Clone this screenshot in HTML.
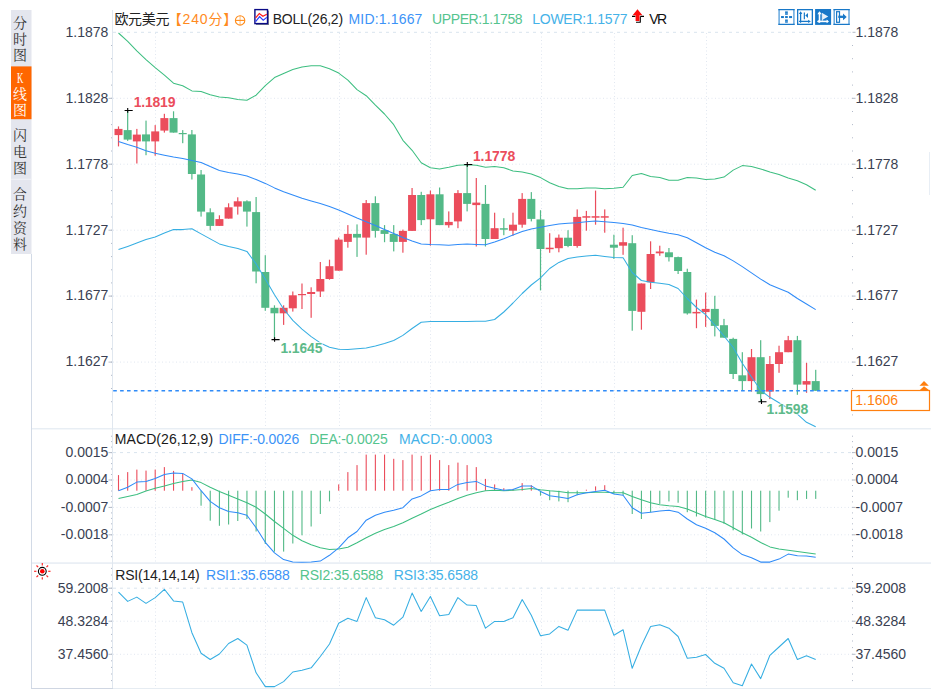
<!DOCTYPE html><html><head><meta charset="utf-8"><title>欧元美元 K线图</title><style>
html,body{margin:0;padding:0;background:#fff;}body{width:934px;height:689px;overflow:hidden;}
svg{display:block;}
text{font-family:"Liberation Sans","Noto Sans CJK SC",sans-serif;}
.ax{font-size:14px;fill:#3a3f52;}
.hd{font-size:14px;}
.cn{font-family:"Liberation Serif","Noto Serif CJK SC",serif;font-size:14px;}
.pk{font-size:14px;font-weight:bold;stroke:#fff;stroke-width:2px;paint-order:stroke;stroke-opacity:.7}
</style></head><body>
<svg width="934" height="689" viewBox="0 0 934 689">
<rect width="934" height="689" fill="#fff"/>
<g>
<rect x="11" y="10" width="20.5" height="244" fill="#E4E6EE"/>
<rect x="11" y="66.4" width="20.5" height="52.8" fill="#FF6600"/>
<rect x="11" y="178.8" width="20.5" height="1" fill="#f2f3f8"/>
<text class="cn" x="20.1" y="27.6" text-anchor="middle" fill="#333">分</text>
<text class="cn" x="20.1" y="44.0" text-anchor="middle" fill="#333">时</text>
<text class="cn" x="20.1" y="60.0" text-anchor="middle" fill="#333">图</text>
<text class="cn" x="20.1" y="83.2" text-anchor="middle" fill="#fff" font-size="12.5" textLength="6.4" lengthAdjust="spacingAndGlyphs">K</text>
<text class="cn" x="20.1" y="99.0" text-anchor="middle" fill="#fff">线</text>
<text class="cn" x="20.1" y="115.2" text-anchor="middle" fill="#fff">图</text>
<text class="cn" x="20.1" y="140.0" text-anchor="middle" fill="#333">闪</text>
<text class="cn" x="20.1" y="157.0" text-anchor="middle" fill="#333">电</text>
<text class="cn" x="20.1" y="173.0" text-anchor="middle" fill="#333">图</text>
<text class="cn" x="20.1" y="199.0" text-anchor="middle" fill="#333">合</text>
<text class="cn" x="20.1" y="216.0" text-anchor="middle" fill="#333">约</text>
<text class="cn" x="20.1" y="232.5" text-anchor="middle" fill="#333">资</text>
<text class="cn" x="20.1" y="249.0" text-anchor="middle" fill="#333">料</text>
</g>
<g fill="none" shape-rendering="crispEdges">
<line x1="31.5" y1="254" x2="31.5" y2="688.5" stroke="#d2dae6"/>
<line x1="31" y1="688.5" x2="113" y2="688.5" stroke="#cfd6e2"/><line x1="113" y1="688.5" x2="931" y2="688.5" stroke="#e6ecf2"/>
<line x1="32" y1="428.5" x2="931" y2="428.5" stroke="#e8eef4"/><line x1="32" y1="429.5" x2="931" y2="429.5" stroke="#f4f7fa"/>
<line x1="32" y1="563.5" x2="931" y2="563.5" stroke="#eaeff5"/><line x1="32" y1="562.5" x2="931" y2="562.5" stroke="#eef2f7"/>
<line x1="112.5" y1="10" x2="112.5" y2="688" stroke="#e0e7ef"/>
<line x1="929.5" y1="152" x2="929.5" y2="195" stroke="#e8eef5"/>
</g>
<g stroke="#e1e7f0" stroke-width="1" fill="none">
<line x1="113" y1="32.3" x2="852" y2="32.3" stroke="#d9e4ee" stroke-dasharray="3 4"/>
<line x1="113" y1="452.6" x2="852" y2="452.6" stroke="#d9e4ee" stroke-dasharray="3 4"/>
<line x1="113" y1="588.2" x2="852" y2="588.2" stroke="#d9e4ee" stroke-dasharray="3 4"/>
<line x1="113" y1="98.3" x2="852" y2="98.3" stroke-dasharray="1 2.5"/>
<line x1="113" y1="164.2" x2="852" y2="164.2" stroke-dasharray="1 2.5"/>
<line x1="113" y1="230.2" x2="852" y2="230.2" stroke-dasharray="1 2.5"/>
<line x1="113" y1="296.1" x2="852" y2="296.1" stroke-dasharray="1 2.5"/>
<line x1="113" y1="362.1" x2="852" y2="362.1" stroke-dasharray="1 2.5"/>
<line x1="113" y1="480.0" x2="852" y2="480.0" stroke-dasharray="1 2.5"/>
<line x1="113" y1="507.4" x2="852" y2="507.4" stroke-dasharray="1 2.5"/>
<line x1="113" y1="534.8" x2="852" y2="534.8" stroke-dasharray="1 2.5"/>
<line x1="113" y1="621.2" x2="852" y2="621.2" stroke-dasharray="1 2.5"/>
<line x1="113" y1="654.3" x2="852" y2="654.3" stroke-dasharray="1 2.5"/>
<line x1="155.5" y1="33" x2="155.5" y2="428" stroke-dasharray="1 2.5"/>
<line x1="155.5" y1="452" x2="155.5" y2="562" stroke-dasharray="1 2.5"/>
<line x1="155.5" y1="587" x2="155.5" y2="688" stroke-dasharray="1 2.5"/>
<line x1="265.5" y1="33" x2="265.5" y2="428" stroke-dasharray="1 2.5"/>
<line x1="265.5" y1="452" x2="265.5" y2="562" stroke-dasharray="1 2.5"/>
<line x1="265.5" y1="587" x2="265.5" y2="688" stroke-dasharray="1 2.5"/>
<line x1="339.5" y1="33" x2="339.5" y2="428" stroke-dasharray="1 2.5"/>
<line x1="339.5" y1="452" x2="339.5" y2="562" stroke-dasharray="1 2.5"/>
<line x1="339.5" y1="587" x2="339.5" y2="688" stroke-dasharray="1 2.5"/>
<line x1="430.5" y1="33" x2="430.5" y2="428" stroke-dasharray="1 2.5"/>
<line x1="430.5" y1="452" x2="430.5" y2="562" stroke-dasharray="1 2.5"/>
<line x1="430.5" y1="587" x2="430.5" y2="688" stroke-dasharray="1 2.5"/>
<line x1="541.5" y1="33" x2="541.5" y2="428" stroke-dasharray="1 2.5"/>
<line x1="541.5" y1="452" x2="541.5" y2="562" stroke-dasharray="1 2.5"/>
<line x1="541.5" y1="587" x2="541.5" y2="688" stroke-dasharray="1 2.5"/>
<line x1="614.5" y1="33" x2="614.5" y2="428" stroke-dasharray="1 2.5"/>
<line x1="614.5" y1="452" x2="614.5" y2="562" stroke-dasharray="1 2.5"/>
<line x1="614.5" y1="587" x2="614.5" y2="688" stroke-dasharray="1 2.5"/>
<line x1="706.5" y1="33" x2="706.5" y2="428" stroke-dasharray="1 2.5"/>
<line x1="706.5" y1="452" x2="706.5" y2="562" stroke-dasharray="1 2.5"/>
<line x1="706.5" y1="587" x2="706.5" y2="688" stroke-dasharray="1 2.5"/>
</g>
<rect x="852.0" y="45.0" width="1" height="1" fill="#b2bac9"/>
<rect x="111.0" y="45.0" width="1" height="1" fill="#b2bac9"/>
<rect x="852.0" y="58.2" width="1" height="1" fill="#b2bac9"/>
<rect x="111.0" y="58.2" width="1" height="1" fill="#b2bac9"/>
<rect x="852.0" y="71.4" width="1" height="1" fill="#b2bac9"/>
<rect x="111.0" y="71.4" width="1" height="1" fill="#b2bac9"/>
<rect x="852.0" y="84.6" width="1" height="1" fill="#b2bac9"/>
<rect x="111.0" y="84.6" width="1" height="1" fill="#b2bac9"/>
<rect x="852.0" y="97.8" width="1" height="1" fill="#b2bac9"/>
<rect x="111.0" y="97.8" width="1" height="1" fill="#b2bac9"/>
<rect x="852.0" y="111.0" width="1" height="1" fill="#b2bac9"/>
<rect x="111.0" y="111.0" width="1" height="1" fill="#b2bac9"/>
<rect x="852.0" y="124.1" width="1" height="1" fill="#b2bac9"/>
<rect x="111.0" y="124.1" width="1" height="1" fill="#b2bac9"/>
<rect x="852.0" y="137.3" width="1" height="1" fill="#b2bac9"/>
<rect x="111.0" y="137.3" width="1" height="1" fill="#b2bac9"/>
<rect x="852.0" y="150.5" width="1" height="1" fill="#b2bac9"/>
<rect x="111.0" y="150.5" width="1" height="1" fill="#b2bac9"/>
<rect x="852.0" y="163.7" width="1" height="1" fill="#b2bac9"/>
<rect x="111.0" y="163.7" width="1" height="1" fill="#b2bac9"/>
<rect x="852.0" y="176.9" width="1" height="1" fill="#b2bac9"/>
<rect x="111.0" y="176.9" width="1" height="1" fill="#b2bac9"/>
<rect x="852.0" y="190.1" width="1" height="1" fill="#b2bac9"/>
<rect x="111.0" y="190.1" width="1" height="1" fill="#b2bac9"/>
<rect x="852.0" y="203.3" width="1" height="1" fill="#b2bac9"/>
<rect x="111.0" y="203.3" width="1" height="1" fill="#b2bac9"/>
<rect x="852.0" y="216.5" width="1" height="1" fill="#b2bac9"/>
<rect x="111.0" y="216.5" width="1" height="1" fill="#b2bac9"/>
<rect x="852.0" y="229.7" width="1" height="1" fill="#b2bac9"/>
<rect x="111.0" y="229.7" width="1" height="1" fill="#b2bac9"/>
<rect x="852.0" y="242.9" width="1" height="1" fill="#b2bac9"/>
<rect x="111.0" y="242.9" width="1" height="1" fill="#b2bac9"/>
<rect x="852.0" y="256.1" width="1" height="1" fill="#b2bac9"/>
<rect x="111.0" y="256.1" width="1" height="1" fill="#b2bac9"/>
<rect x="852.0" y="269.3" width="1" height="1" fill="#b2bac9"/>
<rect x="111.0" y="269.3" width="1" height="1" fill="#b2bac9"/>
<rect x="852.0" y="282.4" width="1" height="1" fill="#b2bac9"/>
<rect x="111.0" y="282.4" width="1" height="1" fill="#b2bac9"/>
<rect x="852.0" y="295.6" width="1" height="1" fill="#b2bac9"/>
<rect x="111.0" y="295.6" width="1" height="1" fill="#b2bac9"/>
<rect x="852.0" y="308.8" width="1" height="1" fill="#b2bac9"/>
<rect x="111.0" y="308.8" width="1" height="1" fill="#b2bac9"/>
<rect x="852.0" y="322.0" width="1" height="1" fill="#b2bac9"/>
<rect x="111.0" y="322.0" width="1" height="1" fill="#b2bac9"/>
<rect x="852.0" y="335.2" width="1" height="1" fill="#b2bac9"/>
<rect x="111.0" y="335.2" width="1" height="1" fill="#b2bac9"/>
<rect x="852.0" y="348.4" width="1" height="1" fill="#b2bac9"/>
<rect x="111.0" y="348.4" width="1" height="1" fill="#b2bac9"/>
<rect x="852.0" y="361.6" width="1" height="1" fill="#b2bac9"/>
<rect x="111.0" y="361.6" width="1" height="1" fill="#b2bac9"/>
<rect x="852.0" y="374.8" width="1" height="1" fill="#b2bac9"/>
<rect x="111.0" y="374.8" width="1" height="1" fill="#b2bac9"/>
<rect x="852.0" y="388.0" width="1" height="1" fill="#b2bac9"/>
<rect x="111.0" y="388.0" width="1" height="1" fill="#b2bac9"/>
<rect x="852.0" y="401.2" width="1" height="1" fill="#b2bac9"/>
<rect x="111.0" y="401.2" width="1" height="1" fill="#b2bac9"/>
<rect x="852.0" y="414.4" width="1" height="1" fill="#b2bac9"/>
<rect x="111.0" y="414.4" width="1" height="1" fill="#b2bac9"/>
<rect x="852.5" y="31.8" width="3" height="1" fill="#b5bcc8"/>
<text class="ax" x="108.3" y="36.6" text-anchor="end">1.1878</text>
<text class="ax" x="855.5" y="36.6">1.1878</text>
<rect x="852.5" y="97.8" width="3" height="1" fill="#b5bcc8"/>
<rect x="108.5" y="97.8" width="3.5" height="1" fill="#b5bcc8"/>
<text class="ax" x="108.3" y="102.6" text-anchor="end">1.1828</text>
<text class="ax" x="855.5" y="102.6">1.1828</text>
<rect x="852.5" y="163.7" width="3" height="1" fill="#b5bcc8"/>
<rect x="108.5" y="163.7" width="3.5" height="1" fill="#b5bcc8"/>
<text class="ax" x="108.3" y="168.5" text-anchor="end">1.1778</text>
<text class="ax" x="855.5" y="168.5">1.1778</text>
<rect x="852.5" y="229.7" width="3" height="1" fill="#b5bcc8"/>
<rect x="108.5" y="229.7" width="3.5" height="1" fill="#b5bcc8"/>
<text class="ax" x="108.3" y="234.5" text-anchor="end">1.1727</text>
<text class="ax" x="855.5" y="234.5">1.1727</text>
<rect x="852.5" y="295.6" width="3" height="1" fill="#b5bcc8"/>
<rect x="108.5" y="295.6" width="3.5" height="1" fill="#b5bcc8"/>
<text class="ax" x="108.3" y="300.4" text-anchor="end">1.1677</text>
<text class="ax" x="855.5" y="300.4">1.1677</text>
<rect x="852.5" y="361.6" width="3" height="1" fill="#b5bcc8"/>
<rect x="108.5" y="361.6" width="3.5" height="1" fill="#b5bcc8"/>
<text class="ax" x="108.3" y="366.4" text-anchor="end">1.1627</text>
<text class="ax" x="855.5" y="366.4">1.1627</text>
<rect x="852.0" y="452.1" width="1" height="1" fill="#b2bac9"/>
<rect x="111.0" y="452.1" width="1" height="1" fill="#b2bac9"/>
<rect x="852.0" y="446.6" width="1" height="1" fill="#b2bac9"/>
<rect x="111.0" y="446.6" width="1" height="1" fill="#b2bac9"/>
<rect x="852.0" y="441.1" width="1" height="1" fill="#b2bac9"/>
<rect x="111.0" y="441.1" width="1" height="1" fill="#b2bac9"/>
<rect x="852.0" y="435.7" width="1" height="1" fill="#b2bac9"/>
<rect x="111.0" y="435.7" width="1" height="1" fill="#b2bac9"/>
<rect x="852.0" y="457.6" width="1" height="1" fill="#b2bac9"/>
<rect x="111.0" y="457.6" width="1" height="1" fill="#b2bac9"/>
<rect x="852.0" y="463.1" width="1" height="1" fill="#b2bac9"/>
<rect x="111.0" y="463.1" width="1" height="1" fill="#b2bac9"/>
<rect x="852.0" y="468.5" width="1" height="1" fill="#b2bac9"/>
<rect x="111.0" y="468.5" width="1" height="1" fill="#b2bac9"/>
<rect x="852.0" y="474.0" width="1" height="1" fill="#b2bac9"/>
<rect x="111.0" y="474.0" width="1" height="1" fill="#b2bac9"/>
<rect x="852.0" y="479.5" width="1" height="1" fill="#b2bac9"/>
<rect x="111.0" y="479.5" width="1" height="1" fill="#b2bac9"/>
<rect x="852.0" y="485.0" width="1" height="1" fill="#b2bac9"/>
<rect x="111.0" y="485.0" width="1" height="1" fill="#b2bac9"/>
<rect x="852.0" y="490.5" width="1" height="1" fill="#b2bac9"/>
<rect x="111.0" y="490.5" width="1" height="1" fill="#b2bac9"/>
<rect x="852.0" y="495.9" width="1" height="1" fill="#b2bac9"/>
<rect x="111.0" y="495.9" width="1" height="1" fill="#b2bac9"/>
<rect x="852.0" y="501.4" width="1" height="1" fill="#b2bac9"/>
<rect x="111.0" y="501.4" width="1" height="1" fill="#b2bac9"/>
<rect x="852.0" y="506.9" width="1" height="1" fill="#b2bac9"/>
<rect x="111.0" y="506.9" width="1" height="1" fill="#b2bac9"/>
<rect x="852.0" y="512.4" width="1" height="1" fill="#b2bac9"/>
<rect x="111.0" y="512.4" width="1" height="1" fill="#b2bac9"/>
<rect x="852.0" y="517.9" width="1" height="1" fill="#b2bac9"/>
<rect x="111.0" y="517.9" width="1" height="1" fill="#b2bac9"/>
<rect x="852.0" y="523.3" width="1" height="1" fill="#b2bac9"/>
<rect x="111.0" y="523.3" width="1" height="1" fill="#b2bac9"/>
<rect x="852.0" y="528.8" width="1" height="1" fill="#b2bac9"/>
<rect x="111.0" y="528.8" width="1" height="1" fill="#b2bac9"/>
<rect x="852.0" y="534.3" width="1" height="1" fill="#b2bac9"/>
<rect x="111.0" y="534.3" width="1" height="1" fill="#b2bac9"/>
<rect x="852.0" y="539.8" width="1" height="1" fill="#b2bac9"/>
<rect x="111.0" y="539.8" width="1" height="1" fill="#b2bac9"/>
<rect x="852.0" y="545.3" width="1" height="1" fill="#b2bac9"/>
<rect x="111.0" y="545.3" width="1" height="1" fill="#b2bac9"/>
<rect x="852.0" y="550.7" width="1" height="1" fill="#b2bac9"/>
<rect x="111.0" y="550.7" width="1" height="1" fill="#b2bac9"/>
<rect x="852.0" y="556.2" width="1" height="1" fill="#b2bac9"/>
<rect x="111.0" y="556.2" width="1" height="1" fill="#b2bac9"/>
<rect x="852.5" y="452.1" width="3" height="1" fill="#b5bcc8"/>
<rect x="108.5" y="452.1" width="3.5" height="1" fill="#b5bcc8"/>
<text class="ax" x="108.3" y="456.9" text-anchor="end">0.0015</text>
<text class="ax" x="855.5" y="456.9">0.0015</text>
<rect x="852.5" y="479.5" width="3" height="1" fill="#b5bcc8"/>
<rect x="108.5" y="479.5" width="3.5" height="1" fill="#b5bcc8"/>
<text class="ax" x="108.3" y="484.3" text-anchor="end">0.0004</text>
<text class="ax" x="855.5" y="484.3">0.0004</text>
<rect x="852.5" y="506.9" width="3" height="1" fill="#b5bcc8"/>
<rect x="108.5" y="506.9" width="3.5" height="1" fill="#b5bcc8"/>
<text class="ax" x="108.3" y="511.7" text-anchor="end">-0.0007</text>
<text class="ax" x="855.5" y="511.7">-0.0007</text>
<rect x="852.5" y="534.3" width="3" height="1" fill="#b5bcc8"/>
<rect x="108.5" y="534.3" width="3.5" height="1" fill="#b5bcc8"/>
<text class="ax" x="108.3" y="539.1" text-anchor="end">-0.0018</text>
<text class="ax" x="855.5" y="539.1">-0.0018</text>
<rect x="852.0" y="587.7" width="1" height="1" fill="#b2bac9"/>
<rect x="111.0" y="587.7" width="1" height="1" fill="#b2bac9"/>
<rect x="852.0" y="581.1" width="1" height="1" fill="#b2bac9"/>
<rect x="111.0" y="581.1" width="1" height="1" fill="#b2bac9"/>
<rect x="852.0" y="574.5" width="1" height="1" fill="#b2bac9"/>
<rect x="111.0" y="574.5" width="1" height="1" fill="#b2bac9"/>
<rect x="852.0" y="567.9" width="1" height="1" fill="#b2bac9"/>
<rect x="111.0" y="567.9" width="1" height="1" fill="#b2bac9"/>
<rect x="852.0" y="594.3" width="1" height="1" fill="#b2bac9"/>
<rect x="111.0" y="594.3" width="1" height="1" fill="#b2bac9"/>
<rect x="852.0" y="600.9" width="1" height="1" fill="#b2bac9"/>
<rect x="111.0" y="600.9" width="1" height="1" fill="#b2bac9"/>
<rect x="852.0" y="607.5" width="1" height="1" fill="#b2bac9"/>
<rect x="111.0" y="607.5" width="1" height="1" fill="#b2bac9"/>
<rect x="852.0" y="614.1" width="1" height="1" fill="#b2bac9"/>
<rect x="111.0" y="614.1" width="1" height="1" fill="#b2bac9"/>
<rect x="852.0" y="620.7" width="1" height="1" fill="#b2bac9"/>
<rect x="111.0" y="620.7" width="1" height="1" fill="#b2bac9"/>
<rect x="852.0" y="627.3" width="1" height="1" fill="#b2bac9"/>
<rect x="111.0" y="627.3" width="1" height="1" fill="#b2bac9"/>
<rect x="852.0" y="633.9" width="1" height="1" fill="#b2bac9"/>
<rect x="111.0" y="633.9" width="1" height="1" fill="#b2bac9"/>
<rect x="852.0" y="640.5" width="1" height="1" fill="#b2bac9"/>
<rect x="111.0" y="640.5" width="1" height="1" fill="#b2bac9"/>
<rect x="852.0" y="647.1" width="1" height="1" fill="#b2bac9"/>
<rect x="111.0" y="647.1" width="1" height="1" fill="#b2bac9"/>
<rect x="852.0" y="653.7" width="1" height="1" fill="#b2bac9"/>
<rect x="111.0" y="653.7" width="1" height="1" fill="#b2bac9"/>
<rect x="852.0" y="660.3" width="1" height="1" fill="#b2bac9"/>
<rect x="111.0" y="660.3" width="1" height="1" fill="#b2bac9"/>
<rect x="852.0" y="666.9" width="1" height="1" fill="#b2bac9"/>
<rect x="111.0" y="666.9" width="1" height="1" fill="#b2bac9"/>
<rect x="852.0" y="673.5" width="1" height="1" fill="#b2bac9"/>
<rect x="111.0" y="673.5" width="1" height="1" fill="#b2bac9"/>
<rect x="852.0" y="680.1" width="1" height="1" fill="#b2bac9"/>
<rect x="111.0" y="680.1" width="1" height="1" fill="#b2bac9"/>
<rect x="852.5" y="587.7" width="3" height="1" fill="#b5bcc8"/>
<rect x="108.5" y="587.7" width="3.5" height="1" fill="#b5bcc8"/>
<text class="ax" x="108.3" y="592.5" text-anchor="end">59.2008</text>
<text class="ax" x="855.5" y="592.5">59.2008</text>
<rect x="852.5" y="620.7" width="3" height="1" fill="#b5bcc8"/>
<rect x="108.5" y="620.7" width="3.5" height="1" fill="#b5bcc8"/>
<text class="ax" x="108.3" y="625.5" text-anchor="end">48.3284</text>
<text class="ax" x="855.5" y="625.5">48.3284</text>
<rect x="852.5" y="653.8" width="3" height="1" fill="#b5bcc8"/>
<rect x="108.5" y="653.8" width="3.5" height="1" fill="#b5bcc8"/>
<text class="ax" x="108.3" y="658.6" text-anchor="end">37.4560</text>
<text class="ax" x="855.5" y="658.6">37.4560</text>
<g>
<rect x="117.90" y="126.4" width="1.2" height="20.0" fill="#EB4D5C"/>
<rect x="114.50" y="128.9" width="8" height="6.2" fill="#EB4D5C"/>
<rect x="127.07" y="110.5" width="1.2" height="30.4" fill="#53B987"/>
<rect x="123.67" y="130.1" width="8" height="9.5" fill="#53B987"/>
<rect x="136.25" y="128.9" width="1.2" height="34.6" fill="#EB4D5C"/>
<rect x="132.85" y="134.6" width="8" height="6.8" fill="#EB4D5C"/>
<rect x="145.42" y="120.6" width="1.2" height="34.6" fill="#53B987"/>
<rect x="142.02" y="134.4" width="8" height="7.0" fill="#53B987"/>
<rect x="154.60" y="125.1" width="1.2" height="30.6" fill="#EB4D5C"/>
<rect x="151.20" y="131.4" width="8" height="10.0" fill="#EB4D5C"/>
<rect x="163.77" y="113.8" width="1.2" height="18.8" fill="#EB4D5C"/>
<rect x="160.37" y="118.1" width="8" height="12.5" fill="#EB4D5C"/>
<rect x="172.94" y="111.3" width="1.2" height="21.3" fill="#53B987"/>
<rect x="169.54" y="118.1" width="8" height="14.5" fill="#53B987"/>
<rect x="182.12" y="130.1" width="1.2" height="13.1" fill="#53B987"/>
<rect x="178.72" y="133.0" width="8" height="1.2" fill="#53B987"/>
<rect x="191.29" y="130.0" width="1.2" height="49.5" fill="#53B987"/>
<rect x="187.89" y="134.4" width="8" height="39.6" fill="#53B987"/>
<rect x="200.47" y="170.0" width="1.2" height="46.6" fill="#53B987"/>
<rect x="197.07" y="174.5" width="8" height="37.1" fill="#53B987"/>
<rect x="209.64" y="208.3" width="1.2" height="22.1" fill="#53B987"/>
<rect x="206.24" y="212.3" width="8" height="13.6" fill="#53B987"/>
<rect x="218.81" y="215.3" width="1.2" height="10.6" fill="#EB4D5C"/>
<rect x="215.41" y="219.1" width="8" height="6.8" fill="#EB4D5C"/>
<rect x="227.99" y="203.3" width="1.2" height="15.3" fill="#EB4D5C"/>
<rect x="224.59" y="207.3" width="8" height="11.3" fill="#EB4D5C"/>
<rect x="237.16" y="197.3" width="1.2" height="17.3" fill="#EB4D5C"/>
<rect x="233.76" y="201.3" width="8" height="5.3" fill="#EB4D5C"/>
<rect x="246.34" y="200.3" width="1.2" height="26.3" fill="#53B987"/>
<rect x="242.94" y="201.3" width="8" height="10.3" fill="#53B987"/>
<rect x="255.51" y="197.0" width="1.2" height="86.3" fill="#53B987"/>
<rect x="252.11" y="212.1" width="8" height="59.4" fill="#53B987"/>
<rect x="264.68" y="255.2" width="1.2" height="55.6" fill="#53B987"/>
<rect x="261.28" y="272.0" width="8" height="35.8" fill="#53B987"/>
<rect x="273.86" y="305.3" width="1.2" height="34.3" fill="#53B987"/>
<rect x="270.46" y="307.8" width="8" height="5.5" fill="#53B987"/>
<rect x="283.03" y="305.3" width="1.2" height="19.6" fill="#EB4D5C"/>
<rect x="279.63" y="307.8" width="8" height="5.5" fill="#EB4D5C"/>
<rect x="292.21" y="291.5" width="1.2" height="20.1" fill="#EB4D5C"/>
<rect x="288.81" y="295.3" width="8" height="13.0" fill="#EB4D5C"/>
<rect x="301.38" y="283.5" width="1.2" height="25.5" fill="#EB4D5C"/>
<rect x="297.98" y="294.0" width="8" height="1.2" fill="#EB4D5C"/>
<rect x="310.55" y="287.3" width="1.2" height="30.5" fill="#EB4D5C"/>
<rect x="307.15" y="292.0" width="8" height="2.0" fill="#EB4D5C"/>
<rect x="319.73" y="262.0" width="1.2" height="35.0" fill="#EB4D5C"/>
<rect x="316.33" y="279.0" width="8" height="12.5" fill="#EB4D5C"/>
<rect x="328.90" y="259.7" width="1.2" height="20.0" fill="#EB4D5C"/>
<rect x="325.50" y="266.2" width="8" height="12.8" fill="#EB4D5C"/>
<rect x="338.08" y="237.6" width="1.2" height="33.1" fill="#EB4D5C"/>
<rect x="334.68" y="239.6" width="8" height="31.1" fill="#EB4D5C"/>
<rect x="347.25" y="225.1" width="1.2" height="22.6" fill="#EB4D5C"/>
<rect x="343.85" y="233.9" width="8" height="8.0" fill="#EB4D5C"/>
<rect x="356.42" y="224.4" width="1.2" height="32.5" fill="#53B987"/>
<rect x="353.02" y="233.9" width="8" height="3.7" fill="#53B987"/>
<rect x="365.60" y="200.0" width="1.2" height="54.7" fill="#EB4D5C"/>
<rect x="362.20" y="203.1" width="8" height="34.5" fill="#EB4D5C"/>
<rect x="374.77" y="196.3" width="1.2" height="41.3" fill="#53B987"/>
<rect x="371.37" y="203.1" width="8" height="27.8" fill="#53B987"/>
<rect x="383.95" y="225.1" width="1.2" height="17.1" fill="#53B987"/>
<rect x="380.55" y="230.1" width="8" height="3.8" fill="#53B987"/>
<rect x="393.12" y="225.1" width="1.2" height="26.3" fill="#53B987"/>
<rect x="389.72" y="233.9" width="8" height="8.0" fill="#53B987"/>
<rect x="402.29" y="229.6" width="1.2" height="23.1" fill="#EB4D5C"/>
<rect x="398.89" y="230.9" width="8" height="11.0" fill="#EB4D5C"/>
<rect x="411.47" y="188.0" width="1.2" height="42.9" fill="#EB4D5C"/>
<rect x="408.07" y="195.0" width="8" height="35.9" fill="#EB4D5C"/>
<rect x="420.64" y="191.8" width="1.2" height="33.3" fill="#53B987"/>
<rect x="417.24" y="195.0" width="8" height="25.1" fill="#53B987"/>
<rect x="429.82" y="190.5" width="1.2" height="55.2" fill="#EB4D5C"/>
<rect x="426.42" y="194.3" width="8" height="25.0" fill="#EB4D5C"/>
<rect x="438.99" y="187.5" width="1.2" height="37.6" fill="#53B987"/>
<rect x="435.59" y="194.3" width="8" height="30.8" fill="#53B987"/>
<rect x="448.16" y="211.4" width="1.2" height="16.3" fill="#EB4D5C"/>
<rect x="444.76" y="221.9" width="8" height="3.3" fill="#EB4D5C"/>
<rect x="457.34" y="190.1" width="1.2" height="38.1" fill="#EB4D5C"/>
<rect x="453.94" y="193.1" width="8" height="28.3" fill="#EB4D5C"/>
<rect x="466.51" y="164.6" width="1.2" height="46.8" fill="#53B987"/>
<rect x="463.11" y="193.1" width="8" height="10.8" fill="#53B987"/>
<rect x="475.69" y="178.0" width="1.2" height="68.5" fill="#EB4D5C"/>
<rect x="472.29" y="202.6" width="8" height="2.5" fill="#EB4D5C"/>
<rect x="484.86" y="185.0" width="1.2" height="61.5" fill="#53B987"/>
<rect x="481.46" y="203.9" width="8" height="35.1" fill="#53B987"/>
<rect x="494.03" y="212.7" width="1.2" height="26.3" fill="#EB4D5C"/>
<rect x="490.63" y="228.2" width="8" height="10.8" fill="#EB4D5C"/>
<rect x="503.21" y="218.2" width="1.2" height="17.0" fill="#53B987"/>
<rect x="499.81" y="228.2" width="8" height="1.5" fill="#53B987"/>
<rect x="512.38" y="212.7" width="1.2" height="23.0" fill="#EB4D5C"/>
<rect x="508.98" y="224.7" width="8" height="6.0" fill="#EB4D5C"/>
<rect x="521.56" y="193.1" width="1.2" height="34.6" fill="#EB4D5C"/>
<rect x="518.16" y="198.9" width="8" height="25.8" fill="#EB4D5C"/>
<rect x="530.73" y="192.1" width="1.2" height="29.3" fill="#53B987"/>
<rect x="527.33" y="198.9" width="8" height="20.0" fill="#53B987"/>
<rect x="539.90" y="210.2" width="1.2" height="80.2" fill="#53B987"/>
<rect x="536.50" y="219.4" width="8" height="29.6" fill="#53B987"/>
<rect x="549.08" y="233.2" width="1.2" height="19.6" fill="#EB4D5C"/>
<rect x="545.68" y="247.7" width="8" height="1.5" fill="#EB4D5C"/>
<rect x="558.25" y="234.5" width="1.2" height="17.8" fill="#EB4D5C"/>
<rect x="554.85" y="237.7" width="8" height="10.5" fill="#EB4D5C"/>
<rect x="567.43" y="230.2" width="1.2" height="17.0" fill="#53B987"/>
<rect x="564.03" y="237.7" width="8" height="8.3" fill="#53B987"/>
<rect x="576.60" y="209.4" width="1.2" height="38.3" fill="#EB4D5C"/>
<rect x="573.20" y="216.9" width="8" height="29.1" fill="#EB4D5C"/>
<rect x="585.77" y="210.9" width="1.2" height="19.8" fill="#EB4D5C"/>
<rect x="582.37" y="216.2" width="8" height="1.5" fill="#EB4D5C"/>
<rect x="594.95" y="190.6" width="1.2" height="34.1" fill="#EB4D5C"/>
<rect x="591.55" y="216.2" width="8" height="1.5" fill="#EB4D5C"/>
<rect x="604.12" y="209.4" width="1.2" height="23.3" fill="#EB4D5C"/>
<rect x="600.72" y="216.2" width="8" height="1.5" fill="#EB4D5C"/>
<rect x="613.30" y="234.7" width="1.2" height="24.3" fill="#53B987"/>
<rect x="609.90" y="244.7" width="8" height="3.0" fill="#53B987"/>
<rect x="622.47" y="227.7" width="1.2" height="27.1" fill="#EB4D5C"/>
<rect x="619.07" y="242.2" width="8" height="3.5" fill="#EB4D5C"/>
<rect x="631.64" y="235.2" width="1.2" height="95.5" fill="#53B987"/>
<rect x="628.24" y="243.2" width="8" height="67.7" fill="#53B987"/>
<rect x="640.82" y="283.5" width="1.2" height="46.2" fill="#EB4D5C"/>
<rect x="637.42" y="283.5" width="8" height="28.3" fill="#EB4D5C"/>
<rect x="649.99" y="241.3" width="1.2" height="47.7" fill="#EB4D5C"/>
<rect x="646.59" y="254.0" width="8" height="28.3" fill="#EB4D5C"/>
<rect x="659.17" y="245.7" width="1.2" height="10.1" fill="#EB4D5C"/>
<rect x="655.77" y="251.5" width="8" height="1.8" fill="#EB4D5C"/>
<rect x="668.34" y="248.0" width="1.2" height="13.5" fill="#53B987"/>
<rect x="664.94" y="252.3" width="8" height="4.9" fill="#53B987"/>
<rect x="677.51" y="256.6" width="1.2" height="17.4" fill="#53B987"/>
<rect x="674.11" y="257.1" width="8" height="13.9" fill="#53B987"/>
<rect x="686.69" y="268.7" width="1.2" height="45.9" fill="#53B987"/>
<rect x="683.29" y="272.0" width="8" height="41.4" fill="#53B987"/>
<rect x="695.86" y="299.6" width="1.2" height="28.6" fill="#EB4D5C"/>
<rect x="692.46" y="311.9" width="8" height="1.5" fill="#EB4D5C"/>
<rect x="705.04" y="292.6" width="1.2" height="34.3" fill="#EB4D5C"/>
<rect x="701.64" y="308.9" width="8" height="3.2" fill="#EB4D5C"/>
<rect x="714.21" y="295.8" width="1.2" height="40.6" fill="#53B987"/>
<rect x="710.81" y="308.9" width="8" height="17.0" fill="#53B987"/>
<rect x="723.38" y="318.9" width="1.2" height="18.8" fill="#53B987"/>
<rect x="719.98" y="325.2" width="8" height="12.5" fill="#53B987"/>
<rect x="732.56" y="337.7" width="1.2" height="41.3" fill="#53B987"/>
<rect x="729.16" y="338.9" width="8" height="35.1" fill="#53B987"/>
<rect x="741.73" y="352.2" width="1.2" height="38.6" fill="#53B987"/>
<rect x="738.33" y="375.3" width="8" height="5.8" fill="#53B987"/>
<rect x="750.91" y="349.0" width="1.2" height="42.6" fill="#EB4D5C"/>
<rect x="747.51" y="357.2" width="8" height="23.9" fill="#EB4D5C"/>
<rect x="760.08" y="340.2" width="1.2" height="61.4" fill="#53B987"/>
<rect x="756.68" y="357.2" width="8" height="36.9" fill="#53B987"/>
<rect x="769.25" y="356.0" width="1.2" height="43.1" fill="#EB4D5C"/>
<rect x="765.85" y="364.0" width="8" height="27.6" fill="#EB4D5C"/>
<rect x="778.43" y="345.7" width="1.2" height="27.1" fill="#EB4D5C"/>
<rect x="775.03" y="352.2" width="8" height="11.8" fill="#EB4D5C"/>
<rect x="787.60" y="335.9" width="1.2" height="16.3" fill="#EB4D5C"/>
<rect x="784.20" y="340.2" width="8" height="12.0" fill="#EB4D5C"/>
<rect x="796.78" y="335.9" width="1.2" height="58.9" fill="#53B987"/>
<rect x="793.38" y="340.2" width="8" height="44.4" fill="#53B987"/>
<rect x="805.95" y="362.8" width="1.2" height="30.0" fill="#EB4D5C"/>
<rect x="802.55" y="381.1" width="8" height="3.5" fill="#EB4D5C"/>
<rect x="815.12" y="369.8" width="1.2" height="21.0" fill="#53B987"/>
<rect x="811.72" y="381.1" width="8" height="9.7" fill="#53B987"/>
</g>
<polyline points="118.5,33.0 127.7,41.3 136.8,50.8 146.0,59.6 155.2,67.6 164.4,75.1 173.5,83.2 182.7,85.7 191.9,90.9 201.1,91.4 210.2,94.7 219.4,96.9 228.6,97.7 237.8,99.4 246.9,100.2 256.1,95.2 265.3,85.7 274.5,77.6 283.6,73.4 292.8,69.6 302.0,66.9 311.2,65.7 320.3,65.8 329.5,68.8 338.7,73.1 347.9,80.1 357.0,89.6 366.2,95.7 375.4,105.2 384.5,114.0 393.7,124.7 402.9,140.3 412.1,150.3 421.2,162.8 430.4,167.8 439.6,169.1 448.8,167.3 457.9,165.3 467.1,164.8 476.3,165.3 485.5,167.3 494.6,166.6 503.8,167.8 513.0,170.9 522.2,172.1 531.3,174.1 540.5,177.6 549.7,182.7 558.9,186.5 568.0,188.8 577.2,188.8 586.4,188.0 595.5,188.0 604.7,188.7 613.9,188.2 623.1,187.3 632.2,175.5 641.4,173.5 650.6,176.5 659.8,177.6 668.9,180.2 678.1,180.2 687.3,177.6 696.5,178.1 705.6,179.4 714.8,179.1 724.0,177.1 733.2,170.1 742.3,165.6 751.5,166.4 760.7,168.9 769.9,172.1 779.0,174.6 788.2,178.1 797.4,180.7 806.5,184.7 815.7,190.2" fill="none" stroke="#3DBE80" stroke-width="1.05" stroke-linejoin="round"/>
<polyline points="118.5,141.6 127.7,144.6 136.8,147.3 146.0,150.8 155.2,153.3 164.4,155.3 173.5,157.1 182.7,158.6 191.9,160.4 201.1,162.4 210.2,166.6 219.4,170.4 228.6,172.4 237.8,174.1 246.9,176.1 256.1,179.6 265.3,183.4 274.5,187.9 283.6,191.7 292.8,195.0 302.0,198.3 311.2,201.0 320.3,203.5 329.5,206.5 338.7,210.0 347.9,214.0 357.0,218.0 366.2,221.7 375.4,225.5 384.5,229.5 393.7,233.5 402.9,237.6 412.1,241.0 421.2,244.0 430.4,244.5 439.6,244.7 448.8,245.2 457.9,244.5 467.1,244.0 476.3,244.4 485.5,244.7 494.6,242.0 503.8,238.7 513.0,235.0 522.2,231.5 531.3,229.0 540.5,227.2 549.7,225.4 558.9,224.1 568.0,223.3 577.2,222.8 586.4,221.8 595.5,221.0 604.7,221.8 613.9,222.6 623.1,223.6 632.2,225.1 641.4,227.5 650.6,229.6 659.8,231.5 668.9,233.3 678.1,234.8 687.3,237.8 696.5,242.8 705.6,247.8 714.8,252.3 724.0,255.8 733.2,260.9 742.3,266.6 751.5,272.9 760.7,279.1 769.9,284.7 779.0,288.4 788.2,292.2 797.4,298.5 806.5,304.0 815.7,309.6" fill="none" stroke="#2F8BF8" stroke-width="1.05" stroke-linejoin="round"/>
<polyline points="118.5,249.6 127.7,246.4 136.8,243.1 146.0,239.6 155.2,237.1 164.4,233.1 173.5,229.6 182.7,229.6 191.9,228.8 201.1,233.9 210.2,238.9 219.4,243.9 228.6,246.4 237.8,248.4 246.9,251.4 256.1,263.9 265.3,279.0 274.5,294.8 283.6,309.0 292.8,320.3 302.0,329.1 311.2,336.6 320.3,342.9 329.5,347.2 338.7,349.3 347.9,349.4 357.0,348.7 366.2,347.9 375.4,346.0 384.5,343.5 393.7,340.5 402.9,335.4 412.1,328.5 421.2,322.3 430.4,321.6 439.6,321.4 448.8,321.4 457.9,321.4 467.1,321.4 476.3,321.3 485.5,321.2 494.6,319.5 503.8,312.0 513.0,303.0 522.2,293.5 531.3,285.0 540.5,277.8 549.7,268.5 558.9,262.4 568.0,258.5 577.2,257.0 586.4,256.0 595.5,255.3 604.7,256.5 613.9,257.5 623.1,257.8 632.2,272.5 641.4,280.5 650.6,282.3 659.8,283.3 668.9,284.5 678.1,288.5 687.3,298.5 696.5,307.5 705.6,314.6 714.8,325.0 724.0,336.0 733.2,347.5 742.3,363.3 751.5,377.0 760.7,390.3 769.9,397.3 779.0,402.8 788.2,408.4 797.4,414.2 806.5,422.3 815.7,426.7" fill="none" stroke="#36AEE2" stroke-width="1.05" stroke-linejoin="round"/>
<line x1="113.2" y1="390.7" x2="851" y2="390.7" stroke="#2F8BF8" stroke-width="1.5" stroke-dasharray="3.6 3.3"/>
<rect x="851.5" y="390.5" width="78" height="20" fill="#fff" stroke="#FF7F0E" stroke-width="1.2"/>
<text x="855.3" y="405" font-size="14" fill="#FF7F0E">1.1606</text>
<path d="M919.5 385.8 L924 381 L928.8 385.8 Z M919.3 390.6 L924 386.3 L929.6 390.6 Z" fill="#FF7F0E"/>
<path d="M124.6 110.5 h8.1 M127.7 108.1 v4.6" stroke="#000" stroke-width="1.1" fill="none"/>
<path d="M464.2 164.5 h8.1 M467.3 162.1 v4.6" stroke="#000" stroke-width="1.1" fill="none"/>
<path d="M271.5 339.6 h8.1 M274.6 337.2 v4.6" stroke="#000" stroke-width="1.1" fill="none"/>
<path d="M758.4 401.7 h8.1 M761.5 399.3 v4.6" stroke="#000" stroke-width="1.1" fill="none"/>
<text class="pk" x="133.7" y="106.9" fill="#EB4D5C" textLength="41.8">1.1819</text>
<text class="pk" x="472.9" y="160.7" fill="#EB4D5C" textLength="42.4">1.1778</text>
<text class="pk" x="280.5" y="352.9" fill="#5DBA8A" textLength="42">1.1645</text>
<text class="pk" x="766.6" y="414" fill="#5DBA8A" textLength="41.6">1.1598</text>
<g>
<rect x="117.95" y="475.1" width="1.1" height="15.6" fill="#EB4D5C"/>
<rect x="127.12" y="472.1" width="1.1" height="18.6" fill="#EB4D5C"/>
<rect x="136.30" y="469.6" width="1.1" height="21.1" fill="#EB4D5C"/>
<rect x="145.47" y="470.6" width="1.1" height="20.1" fill="#EB4D5C"/>
<rect x="154.65" y="469.6" width="1.1" height="21.1" fill="#EB4D5C"/>
<rect x="163.82" y="467.1" width="1.1" height="23.6" fill="#EB4D5C"/>
<rect x="172.99" y="470.9" width="1.1" height="19.8" fill="#EB4D5C"/>
<rect x="182.17" y="473.9" width="1.1" height="16.8" fill="#EB4D5C"/>
<rect x="191.34" y="487.2" width="1.1" height="3.5" fill="#EB4D5C"/>
<rect x="200.52" y="490.7" width="1.1" height="15.0" fill="#53B987"/>
<rect x="209.69" y="490.7" width="1.1" height="30.0" fill="#53B987"/>
<rect x="218.86" y="490.7" width="1.1" height="35.1" fill="#53B987"/>
<rect x="228.04" y="490.7" width="1.1" height="33.8" fill="#53B987"/>
<rect x="237.21" y="490.7" width="1.1" height="30.3" fill="#53B987"/>
<rect x="246.39" y="490.7" width="1.1" height="28.3" fill="#53B987"/>
<rect x="255.56" y="490.7" width="1.1" height="40.8" fill="#53B987"/>
<rect x="264.73" y="490.7" width="1.1" height="53.3" fill="#53B987"/>
<rect x="273.91" y="490.7" width="1.1" height="60.9" fill="#53B987"/>
<rect x="283.08" y="490.7" width="1.1" height="60.9" fill="#53B987"/>
<rect x="292.26" y="490.7" width="1.1" height="52.8" fill="#53B987"/>
<rect x="301.43" y="490.7" width="1.1" height="44.6" fill="#53B987"/>
<rect x="310.60" y="490.7" width="1.1" height="35.8" fill="#53B987"/>
<rect x="319.78" y="490.7" width="1.1" height="23.3" fill="#53B987"/>
<rect x="328.95" y="490.7" width="1.1" height="10.7" fill="#53B987"/>
<rect x="338.13" y="484.4" width="1.1" height="6.3" fill="#EB4D5C"/>
<rect x="347.30" y="472.1" width="1.1" height="18.6" fill="#EB4D5C"/>
<rect x="356.47" y="465.1" width="1.1" height="25.6" fill="#EB4D5C"/>
<rect x="365.65" y="454.6" width="1.1" height="36.1" fill="#EB4D5C"/>
<rect x="374.82" y="454.6" width="1.1" height="36.1" fill="#EB4D5C"/>
<rect x="384.00" y="454.6" width="1.1" height="36.1" fill="#EB4D5C"/>
<rect x="393.17" y="458.8" width="1.1" height="31.9" fill="#EB4D5C"/>
<rect x="402.34" y="460.1" width="1.1" height="30.6" fill="#EB4D5C"/>
<rect x="411.52" y="454.6" width="1.1" height="36.1" fill="#EB4D5C"/>
<rect x="420.69" y="455.8" width="1.1" height="34.9" fill="#EB4D5C"/>
<rect x="429.87" y="454.6" width="1.1" height="36.1" fill="#EB4D5C"/>
<rect x="439.04" y="460.1" width="1.1" height="30.6" fill="#EB4D5C"/>
<rect x="448.21" y="465.1" width="1.1" height="25.6" fill="#EB4D5C"/>
<rect x="457.39" y="462.6" width="1.1" height="28.1" fill="#EB4D5C"/>
<rect x="466.56" y="465.1" width="1.1" height="25.6" fill="#EB4D5C"/>
<rect x="475.74" y="467.1" width="1.1" height="23.6" fill="#EB4D5C"/>
<rect x="484.91" y="478.9" width="1.1" height="11.8" fill="#EB4D5C"/>
<rect x="494.08" y="484.4" width="1.1" height="6.3" fill="#EB4D5C"/>
<rect x="503.26" y="488.2" width="1.1" height="2.5" fill="#EB4D5C"/>
<rect x="512.43" y="488.9" width="1.1" height="1.8" fill="#EB4D5C"/>
<rect x="521.61" y="483.1" width="1.1" height="7.6" fill="#EB4D5C"/>
<rect x="530.78" y="485.2" width="1.1" height="5.5" fill="#EB4D5C"/>
<rect x="539.95" y="490.7" width="1.1" height="5.0" fill="#53B987"/>
<rect x="549.13" y="490.7" width="1.1" height="9.5" fill="#53B987"/>
<rect x="558.30" y="490.7" width="1.1" height="10.7" fill="#53B987"/>
<rect x="567.48" y="490.7" width="1.1" height="11.5" fill="#53B987"/>
<rect x="576.65" y="490.7" width="1.1" height="4.5" fill="#53B987"/>
<rect x="585.82" y="489.7" width="1.1" height="1.0" fill="#EB4D5C"/>
<rect x="595.00" y="486.4" width="1.1" height="4.3" fill="#EB4D5C"/>
<rect x="604.17" y="485.2" width="1.1" height="5.5" fill="#EB4D5C"/>
<rect x="613.35" y="490.7" width="1.1" height="3.2" fill="#53B987"/>
<rect x="622.52" y="490.7" width="1.1" height="4.5" fill="#53B987"/>
<rect x="631.69" y="490.7" width="1.1" height="23.3" fill="#53B987"/>
<rect x="640.87" y="490.7" width="1.1" height="28.3" fill="#53B987"/>
<rect x="650.04" y="490.7" width="1.1" height="21.5" fill="#53B987"/>
<rect x="659.22" y="490.7" width="1.1" height="13.2" fill="#53B987"/>
<rect x="668.39" y="490.7" width="1.1" height="10.7" fill="#53B987"/>
<rect x="677.56" y="490.7" width="1.1" height="12.0" fill="#53B987"/>
<rect x="686.74" y="490.7" width="1.1" height="21.5" fill="#53B987"/>
<rect x="695.91" y="490.7" width="1.1" height="25.8" fill="#53B987"/>
<rect x="705.09" y="490.7" width="1.1" height="27.0" fill="#53B987"/>
<rect x="714.26" y="490.7" width="1.1" height="29.2" fill="#53B987"/>
<rect x="723.43" y="490.7" width="1.1" height="33.0" fill="#53B987"/>
<rect x="732.61" y="490.7" width="1.1" height="39.6" fill="#53B987"/>
<rect x="741.78" y="490.7" width="1.1" height="43.8" fill="#53B987"/>
<rect x="750.96" y="490.7" width="1.1" height="37.8" fill="#53B987"/>
<rect x="760.13" y="490.7" width="1.1" height="40.8" fill="#53B987"/>
<rect x="769.30" y="490.7" width="1.1" height="31.4" fill="#53B987"/>
<rect x="778.48" y="490.7" width="1.1" height="20.0" fill="#53B987"/>
<rect x="787.65" y="490.7" width="1.1" height="7.0" fill="#53B987"/>
<rect x="796.83" y="490.7" width="1.1" height="9.5" fill="#53B987"/>
<rect x="806.00" y="490.7" width="1.1" height="8.2" fill="#53B987"/>
<rect x="815.17" y="490.7" width="1.1" height="8.2" fill="#53B987"/>
</g>
<polyline points="118.5,498.4 127.7,496.4 136.8,494.4 146.0,490.9 155.2,488.2 164.4,485.9 173.5,483.4 182.7,481.4 191.9,480.1 201.1,482.6 210.2,487.2 219.4,491.4 228.6,495.2 237.8,498.9 246.9,502.7 256.1,507.2 265.3,514.0 274.5,521.5 283.6,528.3 292.8,535.3 302.0,540.8 311.2,544.8 320.3,547.8 329.5,549.6 338.7,549.1 347.9,547.3 357.0,542.8 366.2,537.8 375.4,533.3 384.5,529.5 393.7,526.5 402.9,522.7 412.1,518.2 421.2,514.0 430.4,509.5 439.6,505.7 448.8,502.2 457.9,498.4 467.1,495.2 476.3,492.7 485.5,490.7 494.6,490.2 503.8,490.7 513.0,490.2 522.2,489.4 531.3,488.4 540.5,489.7 549.7,490.7 558.9,491.4 568.0,492.7 577.2,492.7 586.4,492.7 595.5,492.2 604.7,492.2 613.9,492.7 623.1,492.7 632.2,496.4 641.4,499.7 650.6,502.7 659.8,504.7 668.9,505.7 678.1,506.5 687.3,509.0 696.5,512.7 705.6,516.5 714.8,519.4 724.0,522.7 733.2,527.8 742.3,532.8 751.5,537.3 760.7,542.5 769.9,546.9 779.0,549.1 788.2,550.3 797.4,551.6 806.5,552.8 815.7,554.1" fill="none" stroke="#3DBE80" stroke-width="1.05" stroke-linejoin="round"/>
<polyline points="118.5,490.7 127.7,487.2 136.8,482.1 146.0,481.4 155.2,478.4 164.4,474.4 173.5,473.1 182.7,473.4 191.9,478.9 201.1,490.7 210.2,501.4 219.4,507.7 228.6,511.5 237.8,512.7 246.9,515.2 256.1,527.8 265.3,542.3 274.5,552.8 283.6,559.6 292.8,562.1 302.0,562.3 311.2,562.1 320.3,561.1 329.5,555.3 338.7,547.8 347.9,537.8 357.0,531.5 366.2,520.2 375.4,515.2 384.5,512.2 393.7,510.2 402.9,507.7 412.1,498.9 421.2,495.9 430.4,490.7 439.6,489.4 448.8,489.4 457.9,484.4 467.1,482.6 476.3,481.4 485.5,485.9 494.6,488.2 503.8,490.2 513.0,489.4 522.2,485.9 531.3,485.9 540.5,491.4 549.7,495.7 558.9,496.9 568.0,498.4 577.2,494.7 586.4,492.7 595.5,491.4 604.7,490.2 613.9,493.9 623.1,495.2 632.2,507.7 641.4,513.2 650.6,512.2 659.8,511.0 668.9,510.2 678.1,512.2 687.3,519.0 696.5,524.7 705.6,528.3 714.8,532.8 724.0,539.0 733.2,547.8 742.3,554.6 751.5,557.8 760.7,562.1 769.9,562.1 779.0,559.1 788.2,554.1 797.4,555.8 806.5,556.1 815.7,557.3" fill="none" stroke="#2F8BF8" stroke-width="1.05" stroke-linejoin="round"/>
<polyline points="118.5,592.1 127.7,601.4 136.8,597.1 146.0,603.4 155.2,597.6 164.4,589.3 173.5,600.9 182.7,602.1 191.9,632.7 201.1,653.2 210.2,659.5 219.4,654.0 228.6,643.5 237.8,638.5 246.9,645.2 256.1,672.8 265.3,686.6 274.5,686.6 283.6,681.6 292.8,672.0 302.0,670.3 311.2,667.8 320.3,656.5 329.5,644.0 338.7,623.2 347.9,618.2 357.0,621.4 366.2,597.6 375.4,617.7 384.5,619.7 393.7,625.2 402.9,617.2 412.1,593.1 421.2,611.4 430.4,596.4 439.6,615.7 448.8,614.4 457.9,597.6 467.1,605.1 476.3,605.6 485.5,628.2 494.6,621.4 503.8,621.4 513.0,617.7 522.2,599.6 531.3,615.2 540.5,635.7 549.7,633.9 558.9,626.4 568.0,630.2 577.2,610.1 586.4,610.1 595.5,610.1 604.7,610.1 613.9,635.2 623.1,629.7 632.2,668.3 641.4,645.7 650.6,626.4 659.8,624.7 668.9,628.2 678.1,636.5 687.3,658.3 696.5,657.3 705.6,654.5 714.8,663.3 724.0,668.3 733.2,682.8 742.3,685.8 751.5,664.0 760.7,678.6 769.9,655.3 779.0,647.0 788.2,638.5 797.4,659.5 806.5,655.8 815.7,659.5" fill="none" stroke="#36AEE2" stroke-width="1.05" stroke-linejoin="round"/>
<text class="hd" x="114.4" y="24.2" fill="#222" textLength="55.0">欧元美元</text>
<text class="hd" x="167.8" y="24.2" fill="#FF8A1E" textLength="69.5">【240分】</text>
<g stroke="#FF8C1A" fill="none" stroke-width="1.1"><circle cx="240.1" cy="20.4" r="4.7"/><path d="M235.4 20.4h9.4"/><path d="M240.1 15.7v9.4" stroke-opacity=".55"/></g>
<g><rect x="256" y="10.6" width="13" height="14.4" fill="#7d838f"/><rect x="254.9" y="9.6" width="12.6" height="14" fill="#fff" stroke="#0a0a86" stroke-width="1.4"/>
<polyline points="255.6,17.9 259.3,13.5 262.9,16.3 266.8,14.3" fill="none" stroke="#ff1a1a" stroke-width="1.2"/>
<polyline points="255.6,21.7 259.6,16.6 263.2,20.2 266.8,17.4" fill="none" stroke="#2a3cff" stroke-width="1.2"/></g>
<text class="hd" x="272.7" y="24.2" fill="#222" textLength="70.4">BOLL(26,2)</text>
<text class="hd" x="348.5" y="24.2" fill="#3C93F7" textLength="73.9">MID:1.1667</text>
<text class="hd" x="432.1" y="24.2" fill="#55C48E" textLength="90.5">UPPER:1.1758</text>
<text class="hd" x="532.2" y="24.2" fill="#45B2E8" textLength="95.4">LOWER:1.1577</text>
<g><path d="M632 16.4h3.4 M640.4 16.4h3.6 M640.3 16.4v5.9 M636 22.3h4.8" stroke="#000" stroke-width="1.1" fill="none"/>
<path d="M637.5 9.2 L642.4 15.2 L639.5 15.2 L639.5 21 L635.6 21 L635.6 15.2 L632.6 15.2 Z" fill="#ff0a0a"/></g>
<text class="hd" x="649.3" y="23.9" fill="#111" textLength="17.9">VR</text>
<rect x="778.4" y="9" width="16.2" height="16" fill="#5ea3dc"/>
<rect x="778.4" y="9" width="16.2" height="1.3" fill="#1878C8"/>
<rect x="778.4" y="23.7" width="16.2" height="1.3" fill="#1878C8"/>
<rect x="779.8" y="10.3" width="13.4" height="13.4" fill="#fff"/>
<g fill="#1878C8"><rect x="781.05" y="16.05" width="2.85" height="2"/><rect x="785.1" y="16.05" width="2.7" height="2"/><rect x="789.1" y="16.05" width="2.95" height="2"/><rect x="785.1" y="11.4" width="2.7" height="3.4"/><rect x="785.1" y="19.5" width="2.7" height="3.2"/></g>
<g fill="#8fc0ea"><rect x="785.1" y="12.9" width="2.7" height=".5"/><rect x="785.1" y="20.9" width="2.7" height=".5"/></g>
<rect x="797.0" y="9" width="16" height="16" fill="#1878C8"/>
<rect x="798.3" y="10.3" width="13.4" height="13.4" fill="#fff"/>
<g stroke="#1878C8" fill="#1878C8" stroke-width="1.3"><path d="M800.6 12.4v10" fill="none"/><path d="M799.2 21.4h10" fill="none"/><path d="M800.6 11.2l-1.7 2.8h3.4z" stroke="none"/><path d="M810.9 21.4l-2.8-1.7v3.4z" stroke="none"/><path d="M798.9 21.4l2-1.2v2.4z" stroke="none"/><path d="M800.6 22.8l-1.2-1.6h2.4z" stroke="none"/><path d="M804.35 12.4v6.9" fill="none" stroke-width="1.2"/><path d="M805.3 15.5l2.7-2.5v4.9z" stroke="none"/></g>
<rect x="815.1" y="9" width="16" height="15.9" fill="#1878C8"/>
<g stroke="#fff" fill="#fff" stroke-width="1.6"><path d="M819.5 12.6v9.8" fill="none"/><path d="M817.6 21.4h10.2" fill="none"/><path d="M819.5 11.2l-2.1 3h4.2z" stroke="none"/><path d="M829 21.4l-2.4-1.8v3.6z" stroke="none"/><path d="M817 21.4l2.2-1.4v2.8z" stroke="none"/><path d="M819.5 23l-1.4-1.8h2.8z" stroke="none"/><path d="M822.3 13.1v7.5" fill="none" stroke-width="1"/><path d="M822.7 13.3l5.5 3.2-5.5 3.2z" stroke="none" fill="#e6f1fa"/></g>
<rect x="833.5" y="9" width="16.2" height="16" fill="#5ea3dc"/>
<rect x="833.5" y="9" width="16.2" height="1.3" fill="#1878C8"/>
<rect x="833.5" y="23.7" width="16.2" height="1.3" fill="#1878C8"/>
<rect x="834.9" y="10.3" width="13.4" height="13.4" fill="#fff"/>
<g stroke="#1878C8" fill="#1878C8"><rect x="836.6" y="11.7" width="2.9" height="10.6" fill="#fff" stroke-width="1.2"/><path d="M838.3 16.8h5.4" stroke-width="2.3" fill="none"/><path d="M846.7 16.9l-3.7-3.3v6.7z" stroke="none"/></g>
<text class="hd" x="114.8" y="443.8" fill="#1a1a1a" textLength="98.3">MACD(26,12,9)</text>
<text class="hd" x="218.5" y="443.8" fill="#3C93F7" textLength="80.7">DIFF:-0.0026</text>
<text class="hd" x="309.3" y="443.8" fill="#55C48E" textLength="78.4">DEA:-0.0025</text>
<text class="hd" x="398.9" y="443.8" fill="#45B2E8" textLength="93.5">MACD:-0.0003</text>
<text class="hd" x="115.3" y="579.8" fill="#222" textLength="84.4">RSI(14,14,14)</text>
<text class="hd" x="206.0" y="579.8" fill="#3C93F7" textLength="83.7">RSI1:35.6588</text>
<text class="hd" x="299.7" y="579.8" fill="#55C48E" textLength="83.7">RSI2:35.6588</text>
<text class="hd" x="393.7" y="579.8" fill="#45B2E8" textLength="84.4">RSI3:35.6588</text>
<g><circle cx="42.3" cy="571.3" r="3.9" fill="#fff" stroke="#000" stroke-width="1.1"/><circle cx="42.3" cy="571.3" r="2.3" fill="#ff0000"/>
<line x1="48.20" y1="571.30" x2="50.50" y2="571.30" stroke="#ff2a2a" stroke-width="1.2"/>
<line x1="46.47" y1="575.47" x2="48.10" y2="577.10" stroke="#ff2a2a" stroke-width="1.2"/>
<line x1="42.30" y1="577.20" x2="42.30" y2="579.50" stroke="#ff2a2a" stroke-width="1.2"/>
<line x1="38.13" y1="575.47" x2="36.50" y2="577.10" stroke="#ff2a2a" stroke-width="1.2"/>
<line x1="36.40" y1="571.30" x2="34.10" y2="571.30" stroke="#ff2a2a" stroke-width="1.2"/>
<line x1="38.13" y1="567.13" x2="36.50" y2="565.50" stroke="#ff2a2a" stroke-width="1.2"/>
<line x1="42.30" y1="565.40" x2="42.30" y2="563.10" stroke="#ff2a2a" stroke-width="1.2"/>
<line x1="46.47" y1="567.13" x2="48.10" y2="565.50" stroke="#ff2a2a" stroke-width="1.2"/>
</g>
</svg></body></html>
